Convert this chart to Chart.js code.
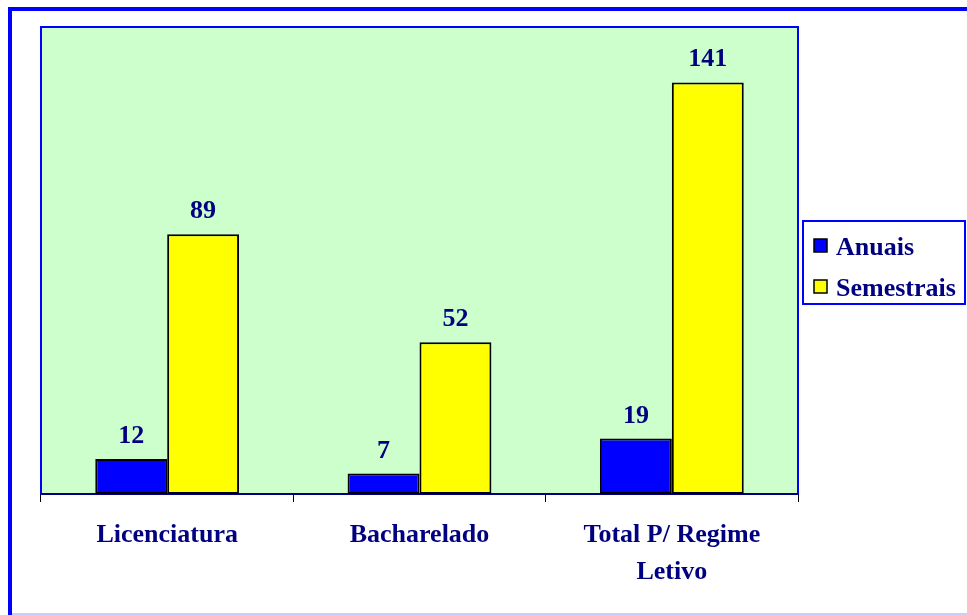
<!DOCTYPE html>
<html>
<head>
<meta charset="utf-8">
<script src="https://cdn.jsdelivr.net/npm/chart.js@4"></script>
<style>
  html, body { margin: 0; padding: 0; background: #fff; }
  #wrap { position: relative; width: 967px; height: 615px; }
</style>
</head>
<body>
<div id="wrap"><canvas id="regimeChart" width="967" height="615"></canvas></div>
<script>
const categories = [["Licenciatura"], ["Bacharelado"], ["Total P/ Regime", "Letivo"]];
const seriesNames = ["Anuais", "Semestrais"];
const anuais = [12, 7, 19];
const semestrais = [89, 52, 141];
const yMax = 160;

const FONT = "'Liberation Serif', 'Times New Roman', serif";
const NAVY = "#000080";

// moldura externa, fundo da área do gráfico e legenda
const framePlugin = {
  id: "frame",
  beforeDraw(chart) {
    const c = chart.ctx;
    const a = chart.chartArea;
    c.save();
    c.fillStyle = "#fff";
    c.fillRect(0, 0, chart.width, chart.height);
    // moldura azul
    c.fillStyle = "#0000FF";
    c.fillRect(8, 7, chart.width - 8, 4);
    c.fillRect(8, 7, 4, chart.height - 7);
    c.fillStyle = "#CCCCFF";
    c.fillRect(12, 613, chart.width - 12, 2);
    // fundo verde
    c.fillStyle = "#CCFFCC";
    c.fillRect(a.left, a.top, a.right - a.left, a.bottom - a.top);
    c.strokeStyle = "#0000FF";
    c.lineWidth = 2;
    c.beginPath();
    c.moveTo(a.left, a.bottom);
    c.lineTo(a.left, a.top);
    c.lineTo(a.right, a.top);
    c.lineTo(a.right, a.bottom);
    c.stroke();
    c.restore();
  },
  afterDraw(chart) {
    const c = chart.ctx;
    c.save();
    // legenda
    c.strokeStyle = "#0000FF";
    c.lineWidth = 2;
    c.fillStyle = "#fff";
    c.fillRect(803, 221, 162, 83);
    c.strokeRect(803, 221, 162, 83);
    c.font = "bold 26px " + FONT;
    c.textBaseline = "alphabetic";
    chart.data.datasets.forEach((ds, i) => {
      const y = 245 + i * 41;
      c.fillStyle = ds.backgroundColor;
      c.fillRect(814, y - 6, 13, 13);
      c.strokeStyle = "#000";
      c.lineWidth = 1.5;
      c.strokeRect(814, y - 6, 13, 13);
      c.fillStyle = NAVY;
      c.fillText(ds.label, 836, y + 10);
    });
    // rótulos de valor
    c.textAlign = "center";
    chart.data.datasets.forEach((ds, i) => {
      chart.getDatasetMeta(i).data.forEach((bar, j) => {
        c.fillStyle = NAVY;
        c.fillText(String(ds.data[j]), bar.x, bar.y - 16);
      });
    });
    c.restore();
  }
};

new Chart(document.getElementById("regimeChart"), {
  type: "bar",
  data: {
    labels: categories,
    datasets: [
      {
        label: seriesNames[0],
        data: anuais,
        backgroundColor: "#0000FF",
        borderColor: "#000",
        borderWidth: 2,
        borderSkipped: false
      },
      {
        label: seriesNames[1],
        data: semestrais,
        backgroundColor: "#FFFF00",
        borderColor: "#000",
        borderWidth: 2,
        borderSkipped: false
      }
    ]
  },
  options: {
    responsive: false,
    animation: false,
    layout: { padding: { left: 41, top: 27, right: 169, bottom: 0 } },
    datasets: { bar: { categoryPercentage: 0.57, barPercentage: 1 } },
    plugins: { legend: { display: false }, tooltip: { enabled: false } },
    scales: {
      x: {
        afterFit: s => { s.height = 121; },
        border: { color: NAVY, width: 2 },
        grid: { drawOnChartArea: false, tickLength: 8, color: "#000", offset: true },
        ticks: {
          color: NAVY,
          padding: 15,
          font: { family: FONT, size: 26, weight: "bold", lineHeight: 1.42 }
        }
      },
      y: {
        display: false,
        min: 0,
        max: yMax
      }
    }
  },
  plugins: [framePlugin]
});
</script>
</body>
</html>
